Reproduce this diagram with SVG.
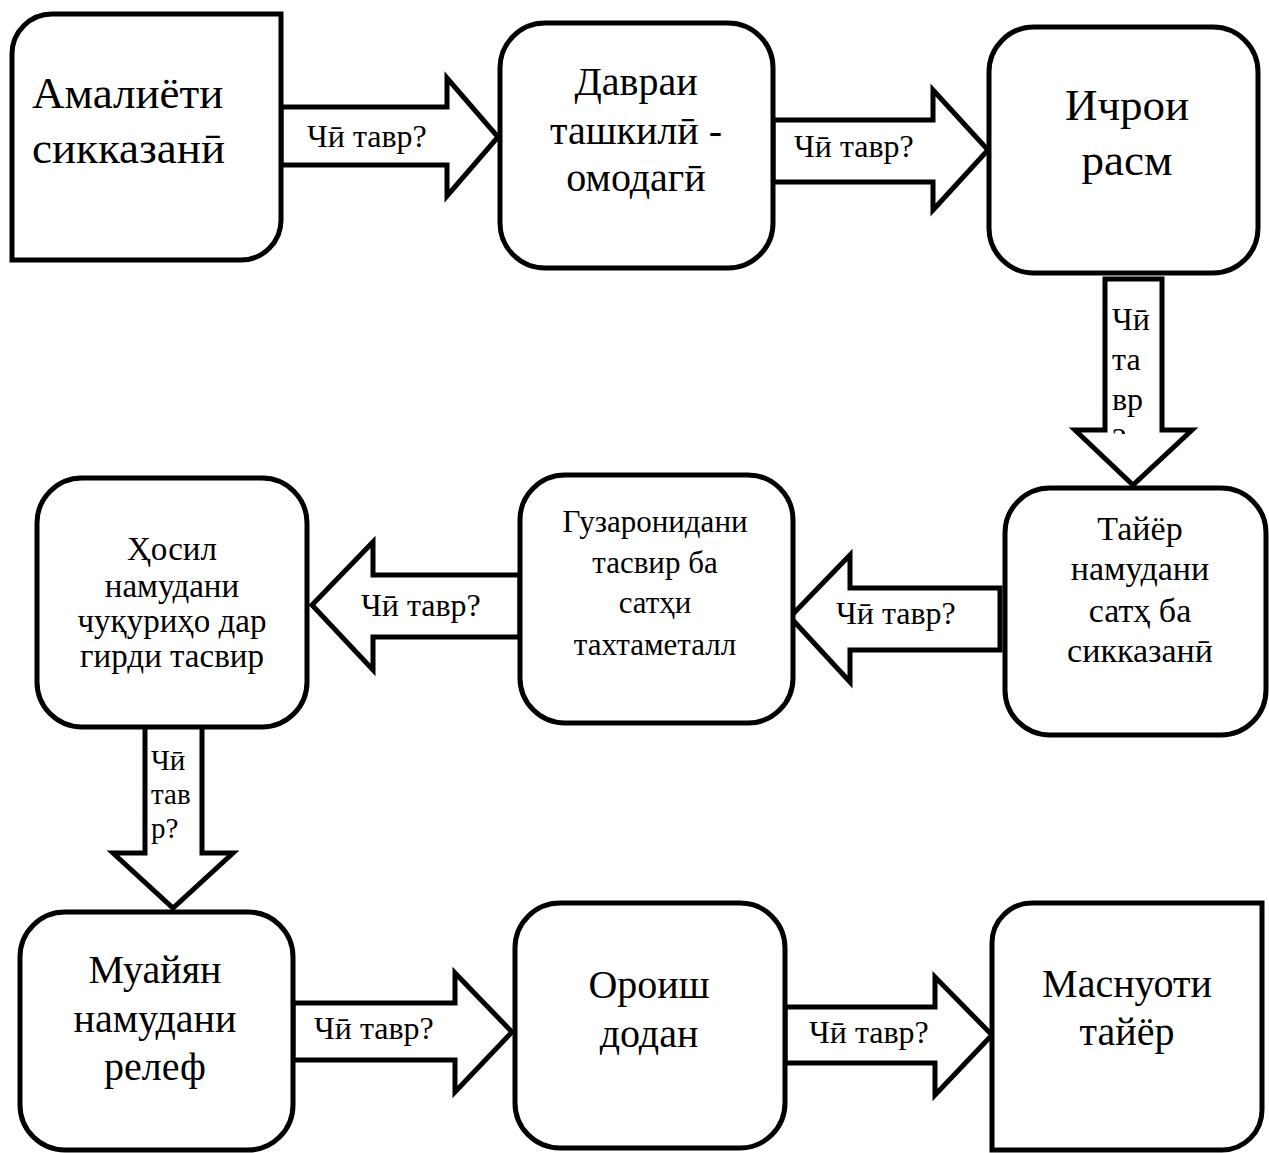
<svg xmlns="http://www.w3.org/2000/svg" width="1269" height="1153" viewBox="0 0 1269 1153">
<style>
.shape{fill:#fff;stroke:#000;stroke-width:5;stroke-linejoin:miter}
.arrow{fill:#fff;stroke:#000;stroke-width:5;stroke-linejoin:miter}
text{font-family:"Liberation Serif","Times New Roman",serif;fill:#000}
.nt{text-anchor:middle}
.lbl{font-size:32px}
.vl{font-size:29px}
</style>
<defs>
<clipPath id="clip3"><rect x="1105" y="282" width="57" height="152"/></clipPath>
</defs>
<rect width="1269" height="1153" fill="#fff"/>
<g id="connectors">
<g id="a1"><polygon class="arrow" points="281,107 447,107 447,78 498,137 447,196 447,165 281,165"/><text class="lbl" x="307" y="147">Чӣ тавр?</text></g>
<g id="a2"><polygon class="arrow" points="773,120 933,120 933,90 988,150 933,210 933,182 773,182"/><text class="lbl" x="794" y="157">Чӣ тавр?</text></g>
<g id="a3"><polygon class="arrow" points="1105,279 1162,279 1162,430 1192,430 1133,485 1075,430 1105,430"/>
<g clip-path="url(#clip3)"><text class="lbl" x="1112" y="330">Чӣ</text><text class="lbl" x="1112" y="370">та</text><text class="lbl" x="1112" y="410">вр</text><text class="lbl" x="1112" y="450">?</text></g></g>
<g id="a4"><polygon class="arrow" points="1000,588 850,588 850,555 790,617 850,682 850,650 1000,650"/><text class="lbl" x="836" y="624">Чӣ тавр?</text></g>
<g id="a5"><polygon class="arrow" points="520,575 373,575 373,542 312,605 373,670 373,637 520,637"/><text class="lbl" x="361" y="616">Чӣ тавр?</text></g>
<g id="a6"><polygon class="arrow" points="145,725 202,725 202,853 233,853 173,908 113,853 145,853"/><text class="vl" x="151" y="770">Чӣ</text><text class="vl" x="151" y="804">тав</text><text class="vl" x="151" y="838">р?</text></g>
<g id="a7"><polygon class="arrow" points="293,1003 455,1003 455,973 512,1032 455,1092 455,1060 293,1060"/><text class="lbl" x="314" y="1039">Чӣ тавр?</text></g>
<g id="a8"><polygon class="arrow" points="785,1007 935,1007 935,977 992,1035 935,1095 935,1063 785,1063"/><text class="lbl" x="809" y="1043">Чӣ тавр?</text></g>
</g>
<g id="n1"><path class="shape" d="M52,14 H281 V220 A40,40 0 0 1 241,260 H12 V54 A40,40 0 0 1 52,14 Z"/><text x="32" y="108" font-size="45">Амалиёти</text><text x="32" y="163" font-size="45">сикказанӣ</text></g>
<g id="n2"><rect class="shape" x="500" y="23" width="273" height="245" rx="45"/><text class="nt" x="636" y="95" font-size="40">Давраи</text><text class="nt" x="636" y="144" font-size="40">ташкилӣ -</text><text class="nt" x="636" y="191" font-size="40">омодагӣ</text></g>
<g id="n3"><rect class="shape" x="989" y="27" width="269" height="246" rx="45"/><text class="nt" x="1127" y="120" font-size="45">Ичрои</text><text class="nt" x="1127" y="175" font-size="45">расм</text></g>
<g id="n4"><rect class="shape" x="1005" y="488" width="261" height="247" rx="45"/><text class="nt" x="1140" y="540" font-size="34">Тайёр</text><text class="nt" x="1140" y="580" font-size="34">намудани</text><text class="nt" x="1140" y="622" font-size="34">сатҳ ба</text><text class="nt" x="1140" y="662" font-size="34">сикказанӣ</text></g>
<g id="n5"><rect class="shape" x="520" y="475" width="273" height="248" rx="45"/><text class="nt" x="655" y="532" font-size="31">Гузаронидани</text><text class="nt" x="655" y="573" font-size="31">тасвир ба</text><text class="nt" x="655" y="613" font-size="31">сатҳи</text><text class="nt" x="655" y="655" font-size="31">тахтаметалл</text></g>
<g id="n6"><rect class="shape" x="37" y="478" width="270" height="249" rx="45"/><text class="nt" x="172" y="560" font-size="33">Ҳосил</text><text class="nt" x="172" y="597" font-size="33">намудани</text><text class="nt" x="172" y="632" font-size="33">чуқуриҳо дар</text><text class="nt" x="172" y="667" font-size="33">гирди тасвир</text></g>
<g id="n7"><rect class="shape" x="20" y="912" width="273" height="238" rx="45"/><text class="nt" x="155" y="983" font-size="40">Муайян</text><text class="nt" x="155" y="1032" font-size="40">намудани</text><text class="nt" x="155" y="1080" font-size="40">релеф</text></g>
<g id="n8"><rect class="shape" x="515" y="903" width="270" height="245" rx="45"/><text class="nt" x="649" y="998" font-size="40">Ороиш</text><text class="nt" x="649" y="1047" font-size="40">додан</text></g>
<g id="n9"><path class="shape" d="M1032,903 H1262 V1110 A40,40 0 0 1 1222,1150 H992 V943 A40,40 0 0 1 1032,903 Z"/><text class="nt" x="1127" y="997" font-size="40">Маснуоти</text><text class="nt" x="1127" y="1045" font-size="40">тайёр</text></g>
</svg>
